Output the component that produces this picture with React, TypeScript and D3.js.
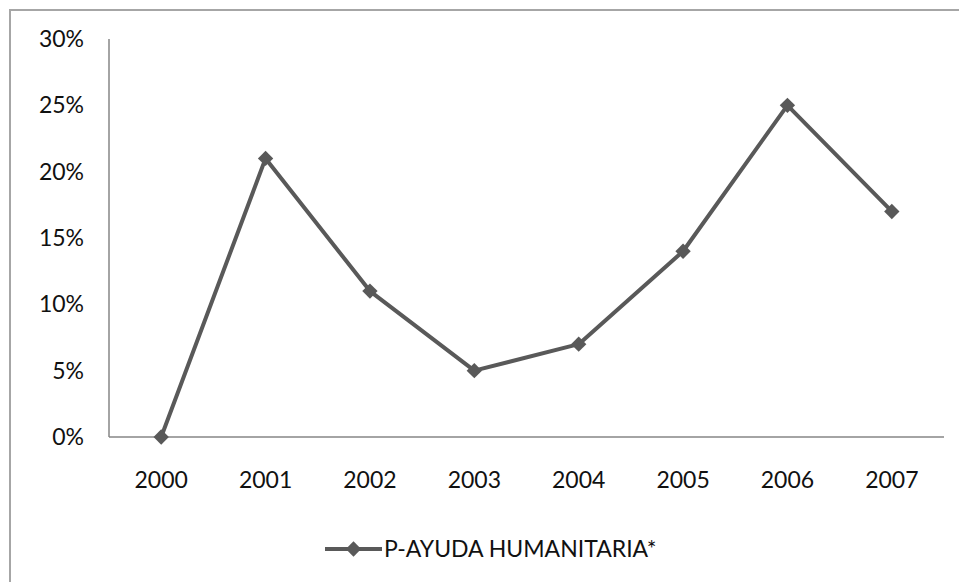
import * as React from 'react';
import * as d3 from 'd3';

const years: string[] = ['2000', '2001', '2002', '2003', '2004', '2005', '2006', '2007'];
const ayuda: number[] = [0, 0.21, 0.11, 0.05, 0.07, 0.14, 0.25, 0.17];
const yTicks: number[] = [0, 0.05, 0.1, 0.15, 0.2, 0.25, 0.3];
const seriesName = 'P-AYUDA HUMANITARIA*';

const W = 959;
const H = 582;
const font = 'Lato, "Open Sans", sans-serif';

function translate(x: number, y: number) {
  return `translate(${x}, ${y})`;
}

export default function App() {
  const x = d3.scaleBand<string>().domain(years).range([109, 944]);
  const y = d3.scaleLinear().domain([0, 0.3]).range([437, 39]);
  const fmt = d3.format('.0%');
  const line = d3.line<number>()
    .x((_, i) => x(years[i])! + x.bandwidth() / 2)
    .y(d => y(d));
  const diamond = d3.symbol().type(d3.symbolDiamond2).size(150)()!;
  const color = '#595959';

  return (
    <svg width={W} height={H} style={{ position: 'absolute', left: 0, top: 0, background: '#fff' }}>
      {/* outer frame, runs off right and bottom */}
      <rect x={10} y={10} width={W + 10} height={H + 10} fill="#fff" stroke="#a6a6a6" strokeWidth={2} />

      {yTicks.map((t, i) => (
        <text key={i} x={84} y={y(t)} dy="0.35em" textAnchor="end"
          fontFamily={font} fontSize={23} fill="#111">{fmt(t)}</text>
      ))}
      {years.map((yr, i) => (
        <text key={i} x={x(yr)! + x.bandwidth() / 2} y={480} dy="0.35em" textAnchor="middle"
          fontFamily={font} fontSize={23} fill="#111">{yr}</text>
      ))}

      <line x1={109} x2={109} y1={39} y2={437} stroke="#868686" strokeWidth={1.5} />
      <line x1={109} x2={944} y1={437} y2={437} stroke="#868686" strokeWidth={1.5} />

      <path d={line(ayuda)!} fill="none" stroke={color} strokeWidth={4} strokeLinejoin="round" />
      {ayuda.map((v, i) => (
        <path key={i} d={diamond} fill={color}
          transform={translate(x(years[i])! + x.bandwidth() / 2, y(v))} />
      ))}

      <g transform={translate(325, 549)}>
        <line x1={0} x2={57} y1={0} y2={0} stroke={color} strokeWidth={4} />
        <path d={diamond} fill={color} transform={translate(28.5, 0)} />
        <text x={59} y={0} dy="0.35em" fontFamily={font} fontSize={23} fill="#111">{seriesName}</text>
      </g>
    </svg>
  );
}
